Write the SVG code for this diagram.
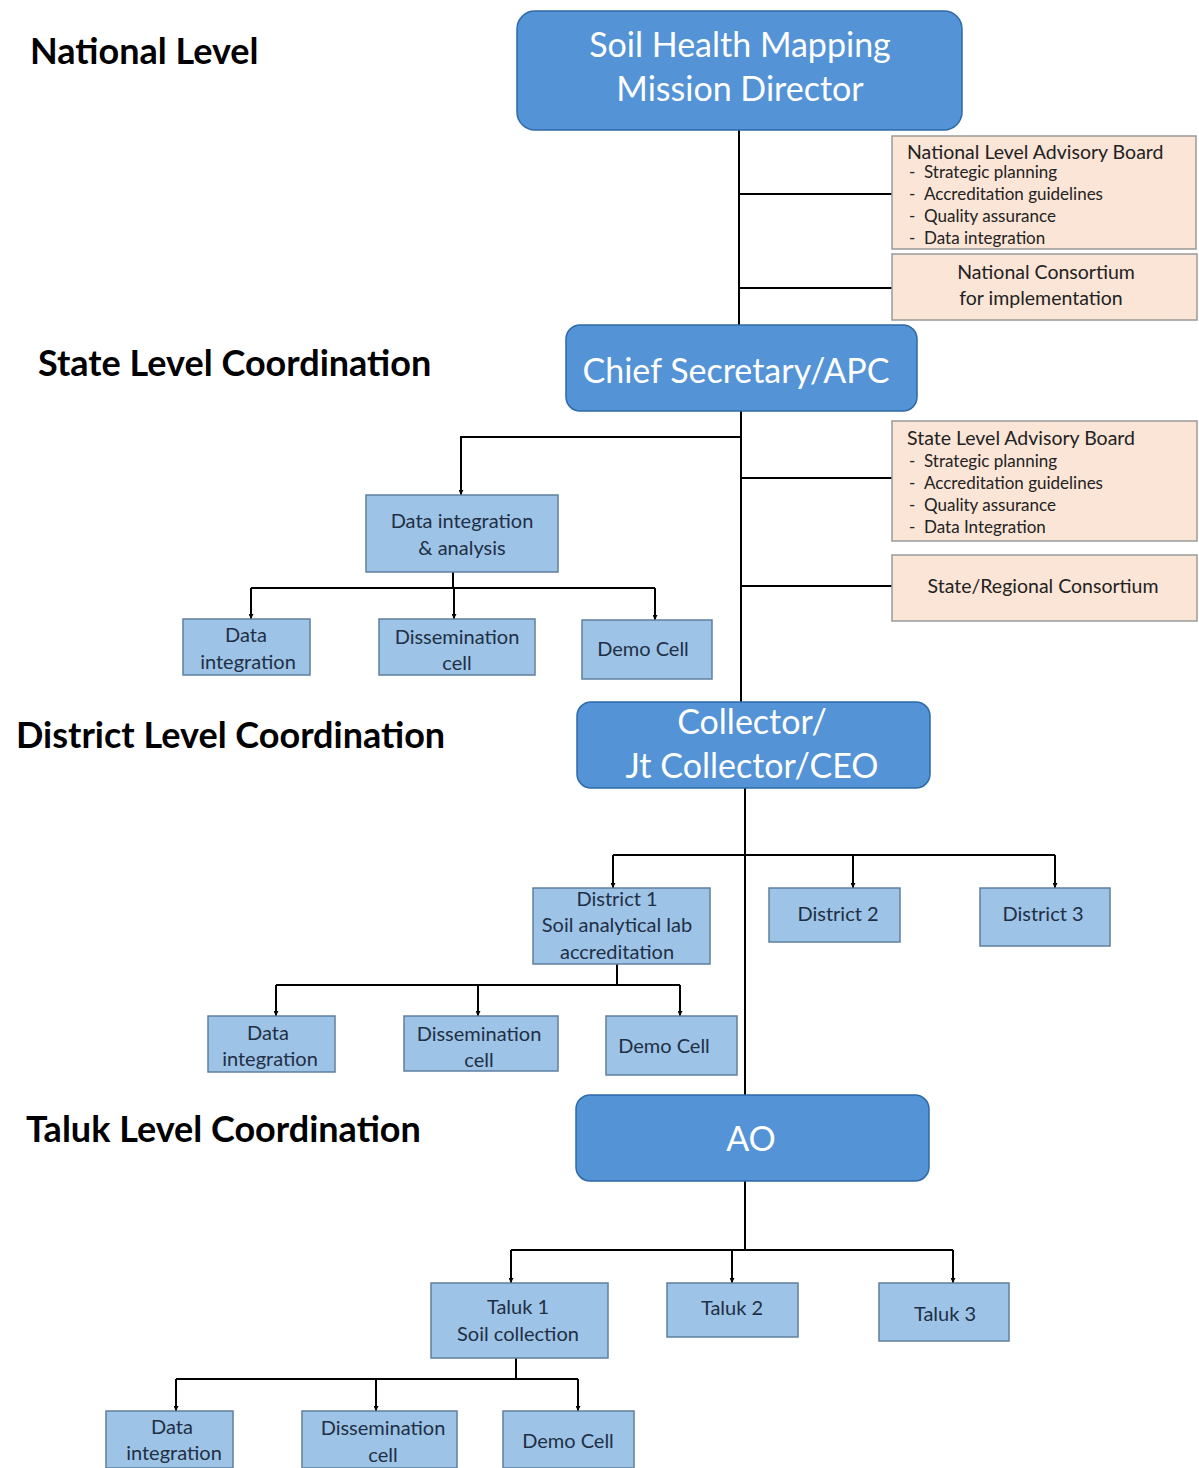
<svg xmlns="http://www.w3.org/2000/svg" width="1199" height="1468" viewBox="0 0 1199 1468">
<style>
text{font-family:Lato,"Liberation Sans",sans-serif}
.lvl{font-size:36px;font-weight:bold;fill:#000}
.main{fill:#5393d6;stroke:#2f6aa8;stroke-width:1.5}
.mt{font-size:34px;fill:#fff;text-anchor:middle}
.sub{fill:#9dc3e6;stroke:#5f7f9f;stroke-width:1.5}
.st{font-size:20px;fill:#1f2f45;text-anchor:middle}
.adv{fill:#fbe5d6;stroke:#9a9a9a;stroke-width:1.5}
.at{font-size:19.5px;fill:#222}
.ab{font-size:17px;fill:#222}
.ct{font-size:19.5px;fill:#222;text-anchor:middle}
.ln{fill:none;stroke:#000;stroke-width:2}
</style>
<defs>
<marker id="ah" viewBox="0 0 10 10" refX="10" refY="5" markerWidth="5" markerHeight="5" orient="auto" markerUnits="userSpaceOnUse">
<path d="M0,0 L10,5 L0,10 z" fill="#000"/>
</marker>
</defs>
<rect width="1199" height="1468" fill="#fff"/>

<g id="levels">
<text class="lvl" x="30" y="64">National Level</text>
<text class="lvl" x="38" y="376">State Level Coordination</text>
<text class="lvl" x="16" y="748">District Level Coordination</text>
<text class="lvl" x="26" y="1142">Taluk Level Coordination</text>
</g>

<g id="connectors">
<path class="ln" d="M739,130 V325"/>
<path class="ln" d="M739,194 H892"/>
<path class="ln" d="M739,288 H892"/>
<path class="ln" d="M741,411 V702"/>
<path class="ln" d="M741,478 H892"/>
<path class="ln" d="M741,586 H892"/>
<path class="ln" d="M741,437 H461 V495" marker-end="url(#ah)"/>
<path class="ln" d="M453,572 V588"/>
<path class="ln" d="M251,588 H655"/>
<path class="ln" d="M251,588 V619" marker-end="url(#ah)"/>
<path class="ln" d="M454,588 V619" marker-end="url(#ah)"/>
<path class="ln" d="M655,588 V620" marker-end="url(#ah)"/>
<path class="ln" d="M745,788 V1095"/>
<path class="ln" d="M613,855 H1055"/>
<path class="ln" d="M613,855 V888" marker-end="url(#ah)"/>
<path class="ln" d="M853,855 V888" marker-end="url(#ah)"/>
<path class="ln" d="M1055,855 V888" marker-end="url(#ah)"/>
<path class="ln" d="M617,964 V985"/>
<path class="ln" d="M276,985 H680"/>
<path class="ln" d="M276,985 V1016" marker-end="url(#ah)"/>
<path class="ln" d="M478,985 V1016" marker-end="url(#ah)"/>
<path class="ln" d="M680,985 V1016" marker-end="url(#ah)"/>
<path class="ln" d="M745,1181 V1250"/>
<path class="ln" d="M511,1250 H953"/>
<path class="ln" d="M511,1250 V1283" marker-end="url(#ah)"/>
<path class="ln" d="M732,1250 V1283" marker-end="url(#ah)"/>
<path class="ln" d="M953,1250 V1283" marker-end="url(#ah)"/>
<path class="ln" d="M516,1358 V1379"/>
<path class="ln" d="M176,1379 H578"/>
<path class="ln" d="M176,1379 V1411" marker-end="url(#ah)"/>
<path class="ln" d="M376,1379 V1411" marker-end="url(#ah)"/>
<path class="ln" d="M578,1379 V1411" marker-end="url(#ah)"/>
</g>

<g id="mission-director">
<rect class="main" x="517" y="11" width="445" height="119" rx="18"/>
<text class="mt" x="740" y="57">Soil Health Mapping</text>
<text class="mt" x="740" y="101">Mission Director</text>
</g>

<g id="national-advisory">
<rect class="adv" x="892" y="136" width="304" height="113"/>
<text class="at" x="907" y="159">National Level Advisory Board</text>
<text class="ab" x="909" y="178">-</text><text class="ab" x="924" y="178">Strategic planning</text>
<text class="ab" x="909" y="200">-</text><text class="ab" x="924" y="200">Accreditation guidelines</text>
<text class="ab" x="909" y="222">-</text><text class="ab" x="924" y="222">Quality assurance</text>
<text class="ab" x="909" y="244">-</text><text class="ab" x="924" y="244">Data integration</text>
</g>

<g id="national-consortium">
<rect class="adv" x="892" y="254" width="305" height="66"/>
<text class="ct" x="1046" y="279">National Consortium</text>
<text class="ct" x="1041" y="305">for implementation</text>
</g>

<g id="chief-secretary">
<rect class="main" x="566" y="325" width="351" height="86" rx="14"/>
<text class="mt" x="736" y="383">Chief Secretary/APC</text>
</g>

<g id="state-advisory">
<rect class="adv" x="892" y="421" width="305" height="120"/>
<text class="at" x="907" y="445">State Level Advisory Board</text>
<text class="ab" x="909" y="467">-</text><text class="ab" x="924" y="467">Strategic planning</text>
<text class="ab" x="909" y="489">-</text><text class="ab" x="924" y="489">Accreditation guidelines</text>
<text class="ab" x="909" y="511">-</text><text class="ab" x="924" y="511">Quality assurance</text>
<text class="ab" x="909" y="533">-</text><text class="ab" x="924" y="533">Data Integration</text>
</g>

<g id="state-consortium">
<rect class="adv" x="892" y="555" width="305" height="66"/>
<text class="ct" x="1043" y="593">State/Regional Consortium</text>
</g>

<g id="state-data-analysis">
<rect class="sub" x="366" y="495" width="192" height="77"/>
<text class="st" x="462" y="528">Data integration</text>
<text class="st" x="462" y="555">&amp; analysis</text>
</g>
<g id="state-data-integration">
<rect class="sub" x="183" y="619" width="127" height="56"/>
<text class="st" x="246" y="642">Data</text>
<text class="st" x="248" y="669">integration</text>
</g>
<g id="state-dissemination">
<rect class="sub" x="379" y="619" width="156" height="56"/>
<text class="st" x="457" y="644">Dissemination</text>
<text class="st" x="457" y="670">cell</text>
</g>
<g id="state-demo">
<rect class="sub" x="582" y="620" width="130" height="59"/>
<text class="st" x="643" y="656">Demo Cell</text>
</g>

<g id="collector">
<rect class="main" x="577" y="702" width="353" height="86" rx="14"/>
<text class="mt" x="752" y="734">Collector/</text>
<text class="mt" x="752" y="778">Jt Collector/CEO</text>
</g>

<g id="district-1">
<rect class="sub" x="533" y="888" width="177" height="76"/>
<text class="st" x="617" y="906">District 1</text>
<text class="st" x="617" y="932">Soil analytical lab</text>
<text class="st" x="617" y="959">accreditation</text>
</g>
<g id="district-2">
<rect class="sub" x="769" y="888" width="131" height="54"/>
<text class="st" x="838" y="921">District 2</text>
</g>
<g id="district-3">
<rect class="sub" x="980" y="888" width="130" height="58"/>
<text class="st" x="1043" y="921">District 3</text>
</g>
<g id="district-data-integration">
<rect class="sub" x="208" y="1016" width="127" height="56"/>
<text class="st" x="268" y="1040">Data</text>
<text class="st" x="270" y="1066">integration</text>
</g>
<g id="district-dissemination">
<rect class="sub" x="404" y="1016" width="154" height="55"/>
<text class="st" x="479" y="1041">Dissemination</text>
<text class="st" x="479" y="1067">cell</text>
</g>
<g id="district-demo">
<rect class="sub" x="606" y="1016" width="131" height="59"/>
<text class="st" x="664" y="1053">Demo Cell</text>
</g>

<g id="ao">
<rect class="main" x="576" y="1095" width="353" height="86" rx="14"/>
<text class="mt" x="751" y="1151">AO</text>
</g>

<g id="taluk-1">
<rect class="sub" x="431" y="1283" width="177" height="75"/>
<text class="st" x="518" y="1314">Taluk 1</text>
<text class="st" x="518" y="1341">Soil collection</text>
</g>
<g id="taluk-2">
<rect class="sub" x="667" y="1283" width="131" height="54"/>
<text class="st" x="732" y="1315">Taluk 2</text>
</g>
<g id="taluk-3">
<rect class="sub" x="879" y="1283" width="130" height="58"/>
<text class="st" x="945" y="1321">Taluk 3</text>
</g>
<g id="taluk-data-integration">
<rect class="sub" x="106" y="1411" width="127" height="57"/>
<text class="st" x="172" y="1434">Data</text>
<text class="st" x="174" y="1460">integration</text>
</g>
<g id="taluk-dissemination">
<rect class="sub" x="302" y="1411" width="155" height="57"/>
<text class="st" x="383" y="1435">Dissemination</text>
<text class="st" x="383" y="1462">cell</text>
</g>
<g id="taluk-demo">
<rect class="sub" x="503" y="1411" width="131" height="57"/>
<text class="st" x="568" y="1448">Demo Cell</text>
</g>
</svg>
